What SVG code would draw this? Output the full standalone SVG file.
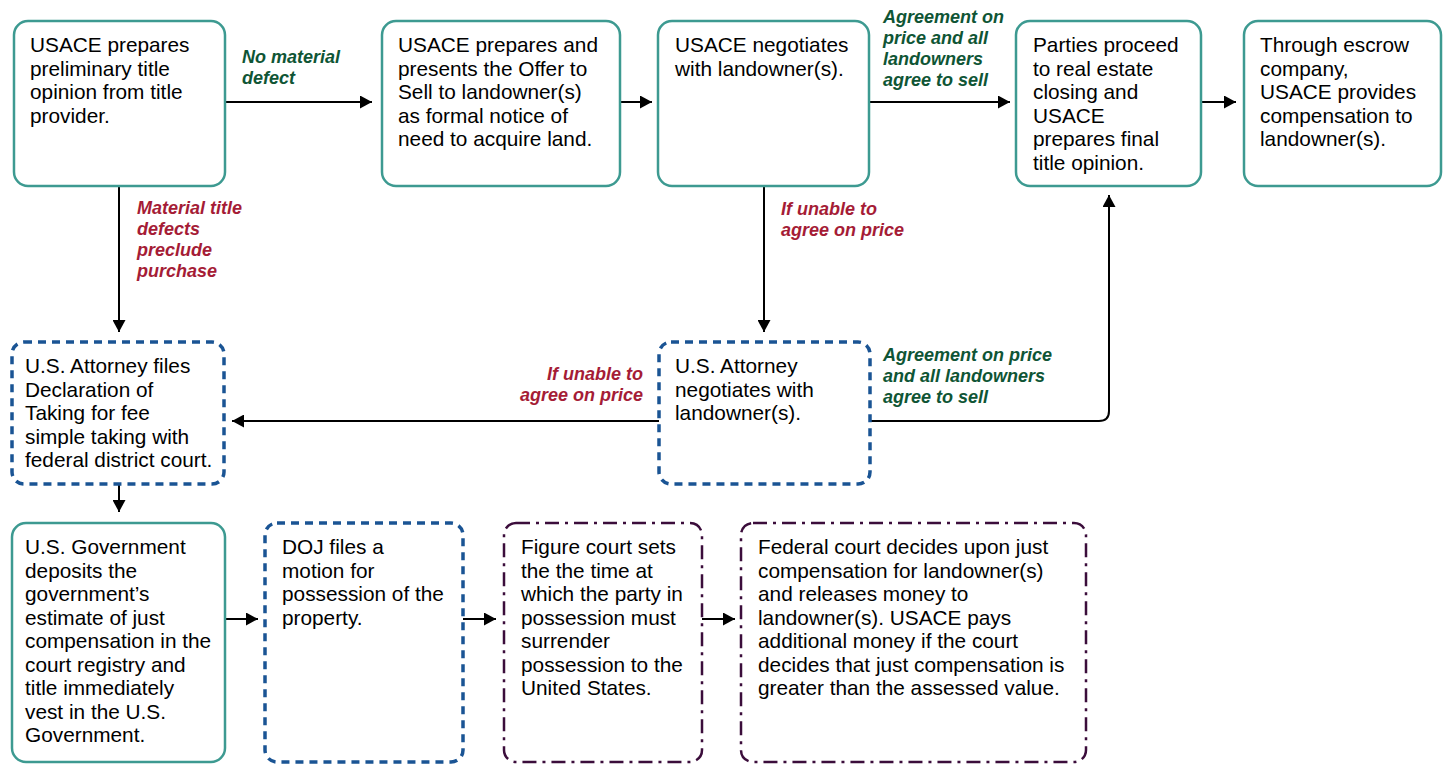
<svg xmlns="http://www.w3.org/2000/svg" width="1448" height="764" viewBox="0 0 1448 764">
<style>
.box{fill:#fff;stroke:#3d9a91;stroke-width:2.5}
.dash{fill:#fff;stroke:#1a5494;stroke-width:3.5;stroke-dasharray:8 6}
.dd{fill:#fff;stroke:#3b0d3b;stroke-width:2.5;stroke-dasharray:14 6 3 6}
.t{font-family:"Liberation Sans",Arial,sans-serif;font-size:20.8px;fill:#000}
.lg{font-family:"Liberation Sans",Arial,sans-serif;font-size:18px;font-weight:bold;font-style:italic;fill:#0f5535}
.lr{font-family:"Liberation Sans",Arial,sans-serif;font-size:18px;font-weight:bold;font-style:italic;fill:#a51c36}
.c{fill:none;stroke:#000;stroke-width:2;marker-end:url(#ah)}
</style>
<defs>
<marker id="ah" markerUnits="userSpaceOnUse" markerWidth="13" markerHeight="13" refX="12" refY="6.5" orient="auto">
<path d="M0,0 L12,6.5 L0,13 Z" fill="#000"/>
</marker>
</defs>
<rect width="1448" height="764" fill="#fff"/>
<g id="connectors">
<path class="c" d="M225,102 H372"/>
<path class="c" d="M620,102 H652"/>
<path class="c" d="M869,102 H1010"/>
<path class="c" d="M1202,102 H1236"/>
<path class="c" d="M119,186 V332"/>
<path class="c" d="M764,186 V332"/>
<path class="c" d="M659,421 H232"/>
<path class="c" d="M870,421 H1099 Q1109,421 1109,411 V195"/>
<path class="c" d="M119,484 V512"/>
<path class="c" d="M225,619 H258"/>
<path class="c" d="M463,619 H496"/>
<path class="c" d="M702,619 H735"/>
<text class="lg"><tspan x="242" y="63">No material</tspan><tspan x="242" y="84">defect</tspan></text>
<text class="lg"><tspan x="883" y="23">Agreement on</tspan><tspan x="883" y="44">price and all</tspan><tspan x="883" y="65">landowners</tspan><tspan x="883" y="86">agree to sell</tspan></text>
<text class="lr"><tspan x="137" y="214">Material title</tspan><tspan x="137" y="235">defects</tspan><tspan x="137" y="256">preclude</tspan><tspan x="137" y="277">purchase</tspan></text>
<text class="lr"><tspan x="781" y="215">If unable to</tspan><tspan x="781" y="236">agree on price</tspan></text>
<text class="lr" text-anchor="end"><tspan x="643" y="380">If unable to</tspan><tspan x="643" y="401">agree on price</tspan></text>
<text class="lg"><tspan x="883" y="361">Agreement on price</tspan><tspan x="883" y="382">and all landowners</tspan><tspan x="883" y="403">agree to sell</tspan></text>
</g>
<g id="n1"><rect class="box" x="14" y="21" width="211" height="165" rx="14"/>
<text class="t"><tspan x="30" y="52">USACE prepares</tspan><tspan x="30" y="75.5">preliminary title</tspan><tspan x="30" y="99">opinion from title</tspan><tspan x="30" y="122.5">provider.</tspan></text></g>
<g id="n2"><rect class="box" x="382" y="21" width="238" height="165" rx="14"/>
<text class="t"><tspan x="398" y="52">USACE prepares and</tspan><tspan x="398" y="75.5">presents the Offer to</tspan><tspan x="398" y="99">Sell to landowner(s)</tspan><tspan x="398" y="122.5">as formal notice of</tspan><tspan x="398" y="146">need to acquire land.</tspan></text></g>
<g id="n3"><rect class="box" x="658" y="21" width="211" height="165" rx="14"/>
<text class="t"><tspan x="675" y="52">USACE negotiates</tspan><tspan x="675" y="75.5">with landowner(s).</tspan></text></g>
<g id="n4"><rect class="box" x="1016" y="21" width="185" height="165" rx="14"/>
<text class="t"><tspan x="1033" y="52">Parties proceed</tspan><tspan x="1033" y="75.5">to real estate</tspan><tspan x="1033" y="99">closing and</tspan><tspan x="1033" y="122.5">USACE</tspan><tspan x="1033" y="146">prepares final</tspan><tspan x="1033" y="169.5">title opinion.</tspan></text></g>
<g id="n5"><rect class="box" x="1244" y="21" width="197" height="165" rx="14"/>
<text class="t"><tspan x="1260" y="52">Through escrow</tspan><tspan x="1260" y="75.5">company,</tspan><tspan x="1260" y="99">USACE provides</tspan><tspan x="1260" y="122.5">compensation to</tspan><tspan x="1260" y="146">landowner(s).</tspan></text></g>
<g id="n6"><rect class="dash" x="12" y="342" width="212" height="142" rx="12"/>
<text class="t"><tspan x="25" y="373">U.S. Attorney files</tspan><tspan x="25" y="396.5">Declaration of</tspan><tspan x="25" y="420">Taking for fee</tspan><tspan x="25" y="443.5">simple taking with</tspan><tspan x="25" y="467">federal district court.</tspan></text></g>
<g id="n7"><rect class="dash" x="659" y="342" width="211" height="142" rx="12"/>
<text class="t"><tspan x="675" y="373">U.S. Attorney</tspan><tspan x="675" y="396.5">negotiates with</tspan><tspan x="675" y="420">landowner(s).</tspan></text></g>
<g id="n8"><rect class="box" x="12" y="523" width="213" height="239" rx="14"/>
<text class="t"><tspan x="25" y="554">U.S. Government</tspan><tspan x="25" y="577.5">deposits the</tspan><tspan x="25" y="601">government’s</tspan><tspan x="25" y="624.5">estimate of just</tspan><tspan x="25" y="648">compensation in the</tspan><tspan x="25" y="671.5">court registry and</tspan><tspan x="25" y="695">title immediately</tspan><tspan x="25" y="718.5">vest in the U.S.</tspan><tspan x="25" y="742">Government.</tspan></text></g>
<g id="n9"><rect class="dash" x="265" y="523" width="198" height="239" rx="12"/>
<text class="t"><tspan x="282" y="554">DOJ files a</tspan><tspan x="282" y="577.5">motion for</tspan><tspan x="282" y="601">possession of the</tspan><tspan x="282" y="624.5">property.</tspan></text></g>
<g id="n10"><rect class="dd" x="504" y="523" width="198" height="239" rx="12"/>
<text class="t"><tspan x="521" y="554">Figure court sets</tspan><tspan x="521" y="577.5">the the time at</tspan><tspan x="521" y="601">which the party in</tspan><tspan x="521" y="624.5">possession must</tspan><tspan x="521" y="648">surrender</tspan><tspan x="521" y="671.5">possession to the</tspan><tspan x="521" y="695">United States.</tspan></text></g>
<g id="n11"><rect class="dd" x="741" y="523" width="345" height="239" rx="12"/>
<text class="t"><tspan x="758" y="554">Federal court decides upon just</tspan><tspan x="758" y="577.5">compensation for landowner(s)</tspan><tspan x="758" y="601">and releases money to</tspan><tspan x="758" y="624.5">landowner(s). USACE pays</tspan><tspan x="758" y="648">additional money if the court</tspan><tspan x="758" y="671.5">decides that just compensation is</tspan><tspan x="758" y="695">greater than the assessed value.</tspan></text></g>
</svg>
